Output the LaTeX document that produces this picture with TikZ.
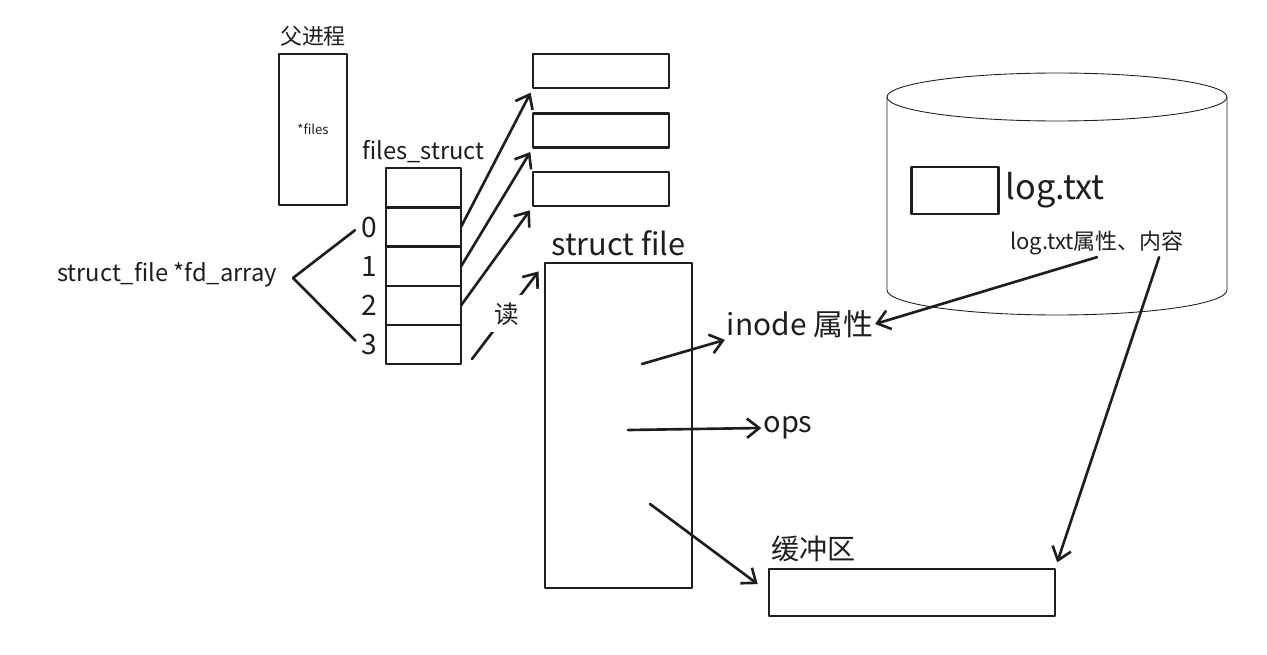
\documentclass[tikz,border=0pt]{standalone}
\usepackage{fontspec}
\setmainfont{Noto Sans CJK SC}
\usetikzlibrary{arrows.meta}
\usetikzlibrary{positioning}
\usetikzlibrary{calc}
\definecolor{ink}{HTML}{1E1E1E}

\begin{document}
\begin{tikzpicture}[x = 0.02cm, y = -0.02cm, line cap = round, line join = round,
  color = ink,
  box/.style = {draw, line width = 1.4pt, inner sep = 0, outer sep = 0},
  arr/.style = {-{Straight Barb[length = 7pt, width = 11pt]}, line width = 1.5pt},
  txt/.style = {inner sep = 1pt, font = \fontsize{#1}{#1}\selectfont}]
  \useasboundingbox (0, 0) rectangle (1267, 655);

  \node[box, minimum width = 1.36cm, minimum height = 3.02cm] (proc) at (313, 129.5) {};
  \node[txt = 7.5] (pfiles) at (proc) {*files};
  \node[txt = 12.5, above = 3pt of proc] (proclabel) {父进程};

  \foreach \n/\y in {t/187.5, 0/227, 1/266.5, 2/305.5, 3/344.5}
    \node[box, minimum width = 1.5cm, minimum height = 0.78cm] (fd\n) at (423.5, \y) {};
  \node[txt = 13.5, above = 2pt of fdt] (fdslabel) {files\_struct};
  \foreach \n in {0, 1, 2, 3}
    \node[txt = 16, left = 4pt of fd\n] (idx\n) {\n};

  \node[txt = 13.5] (fdlabel) at (167, 275) {struct\_file *fd\_array};
  \coordinate (fork) at (293, 278);
  \draw[line width = 1.5pt, shorten > = 3pt] (fork) -- (idx0.west);
  \draw[line width = 1.5pt, shorten > = 3pt] (fork) -- (idx3.west);

  \foreach \n/\y in {1/71, 2/130.5, 3/189}
    \node[box, minimum width = 2.72cm, minimum height = 0.68cm] (slot\n) at (601, \y) {};
  \foreach \a/\b in {0/1, 1/2, 2/3}
    \draw[arr, shorten > = 3pt] (fd\a.east) -- (slot\b.south west);

  \node[box, minimum width = 2.94cm, minimum height = 6.5cm] (sfile) at (618.5, 425.5) {};
  \node[txt = 17.5, above = 3pt of sfile] (sflabel) {struct file};

  \coordinate (readfrom) at (472, 359);
  \draw[arr, shorten > = 6pt] (readfrom) -- node[txt = 14, fill = white, inner sep = 4pt,
  pos = 0.47] (readlabel) {读} (sfile.north west);

  \node[txt = 17] (inode) at (800, 324) {inode 属性};
  \coordinate (inodefrom) at (642, 364);
  \draw[arr] (inodefrom) -- (inode.south west);

  \node[txt = 16.5] (ops) at (788, 428) {ops};
  \coordinate (opsfrom) at (628, 430);
  \draw[arr] (opsfrom) -- (ops.west);

  \node[box, minimum width = 5.72cm, minimum height = 0.94cm] (buf) at (912, 592.5) {};
  \node[txt = 16, above right = 3pt and 0pt of buf.north west] (buflabel) {缓冲区};
  \coordinate (buffrom) at (650, 504);
  \draw[arr, shorten > = 8pt] (buffrom) -- (buf.west);

  \draw[line width = 0.5pt] (1057, 97) ellipse [x radius = 3.4cm, y radius = 0.48cm];
  \draw[line width = 0.5pt] (887, 97) -- (887, 290) arc [start angle = 180,
  end angle = 360, x radius = 3.4cm, y radius = 0.5cm] -- (1227, 97);

  \node[box, minimum width = 1.74cm, minimum height = 0.94cm] (logbox) at (955, 190.5) {};
  \node[txt = 19.5, right = 3pt of logbox] (logname) {log.txt};
  \node[txt = 12.5] (logattr) at (1097, 243) {log.txt属性、内容};
  \draw[arr] (logattr.south) -- (inode.east);
  \draw[arr, shorten > = 4pt] ($(logattr.south)!0.7!(logattr.south east)$) -- (buf.north east);
\end{tikzpicture}
\end{document}
